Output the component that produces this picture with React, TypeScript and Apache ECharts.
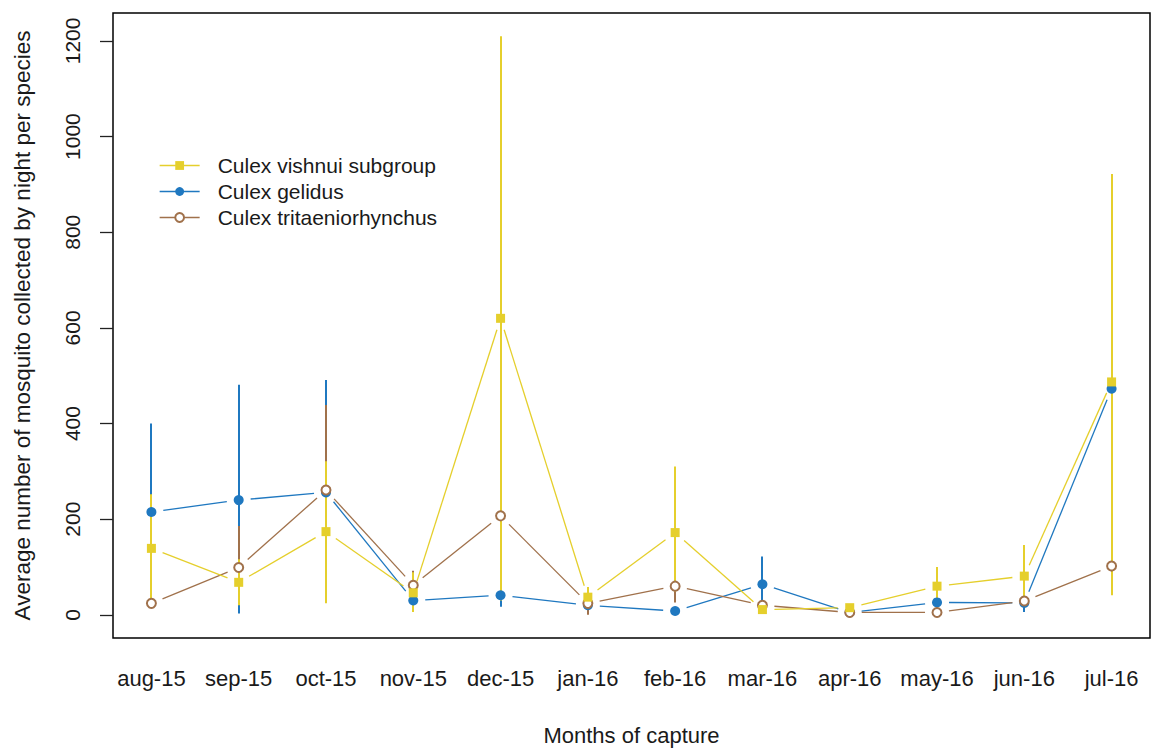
import React, { useEffect, useRef } from "react";
import * as echarts from "echarts";

// Months of capture (x positions 1..12)
const months = [
  "aug-15", "sep-15", "oct-15", "nov-15", "dec-15", "jan-16",
  "feb-16", "mar-16", "apr-16", "may-16", "jun-16", "jul-16",
];

// Culex vishnui subgroup: mean and error-bar range per month
const vishnuiMean = [139, 68, 174, 46, 620, 37, 172, 11, 15, 60, 81, 487];
const vishnuiLow = [24, 20, 24, 6, 30, 16, 49, 5, 10, 20, 16, 41];
const vishnuiHigh = [252, 116, 321, 89, 1210, 58, 310, 17, 20, 100, 146, 922];

// Culex gelidus
const gelidusMean = [215, 240, 256, 30, 41, 20, 8, 64, 5, 26, 25, 473];
const gelidusLow = [30, 3, 25, 18, 17, 8, 0, 6, 0, 14, 6, 60];
const gelidusHigh = [400, 481, 491, 42, 65, 32, 16, 122, 10, 38, 44, 880];

// Culex tritaeniorhynchus
const tritaMean = [24, 99, 261, 62, 207, 24, 60, 20, 5, 5, 29, 102];
const tritaLow = [16, 22, 83, 32, 60, 0, 26, 14, 0, 0, 20, 60];
const tritaHigh = [32, 186, 439, 92, 354, 48, 94, 26, 10, 10, 38, 144];

// Y axis ticks
const yTicks = [0, 200, 400, 600, 800, 1000, 1200];

const FONT = "'Liberation Sans', Arial, sans-serif";
const TEXT = "#1a1a1a";
const YELLOW = "#E5CF2C";
const BLUE = "#1F78C0";
const BROWN = "#A0714B";
const GAP = 12; // distance between a point and the start of its connecting segment

type Species = {
  name: string;
  color: string;
  symbol: string;
  symbolSize: number;
  mean: number[];
  low: number[];
  high: number[];
  z: number;
};

const species: Species[] = [
  { name: "Culex vishnui subgroup", color: YELLOW, symbol: "rect", symbolSize: 9, mean: vishnuiMean, low: vishnuiLow, high: vishnuiHigh, z: 6 },
  { name: "Culex gelidus", color: BLUE, symbol: "circle", symbolSize: 10, mean: gelidusMean, low: gelidusLow, high: gelidusHigh, z: 4 },
  { name: "Culex tritaeniorhynchus", color: BROWN, symbol: "emptyCircle", symbolSize: 9, mean: tritaMean, low: tritaLow, high: tritaHigh, z: 5 },
];

// drawing order for bars and segments: gelidus, tritaeniorhynchus, vishnui on top
const drawOrder = [species[1], species[2], species[0]];

function buildOption() {
  const pointSeries = species.map((s) => ({
    type: "line",
    name: s.name,
    data: s.mean.map((v, i) => [i + 1, v]),
    symbol: s.symbol,
    symbolSize: s.symbolSize,
    showSymbol: true,
    showAllSymbol: true,
    lineStyle: { width: 0, color: s.color },
    itemStyle: {
      color: s.color,
      borderColor: s.color,
      borderWidth: s.symbol === "emptyCircle" ? 1.3 : 0,
    },
    z: s.z,
    silent: true,
  }));

  const barSeries = drawOrder.map((s) => ({
    type: "custom",
    name: s.name,
    data: s.mean.map((_, i) => [i + 1, s.low[i], s.high[i]]),
    encode: { x: 0, y: [1, 2] },
    renderItem: (_params: any, api: any) => {
      const x = api.value(0);
      const p1 = api.coord([x, api.value(1)]);
      const p2 = api.coord([x, api.value(2)]);
      // snap to the pixel grid so overlapping bars cover each other fully
      const px = Math.round(p1[0]);
      return {
        type: "line",
        shape: { x1: px, y1: p1[1], x2: px, y2: p2[1] },
        style: { stroke: s.color, lineWidth: 2 },
      };
    },
    z: 2,
    silent: true,
  }));

  const segmentSeries = drawOrder.map((s) => ({
    type: "custom",
    name: s.name,
    data: s.mean.slice(0, -1).map((v, i) => [i + 1, v, i + 2, s.mean[i + 1]]),
    encode: { x: [0, 2], y: [1, 3] },
    renderItem: (_params: any, api: any) => {
      const a = api.coord([api.value(0), api.value(1)]);
      const b = api.coord([api.value(2), api.value(3)]);
      const dx = b[0] - a[0];
      const dy = b[1] - a[1];
      const len = Math.hypot(dx, dy);
      if (len <= 2 * GAP) return { type: "group", children: [] };
      const ux = dx / len;
      const uy = dy / len;
      return {
        type: "line",
        shape: {
          x1: a[0] + ux * GAP,
          y1: a[1] + uy * GAP,
          x2: b[0] - ux * GAP,
          y2: b[1] - uy * GAP,
        },
        style: { stroke: s.color, lineWidth: 1.3 },
      };
    },
    z: 3,
    silent: true,
  }));

  return {
    animation: false,
    backgroundColor: "#ffffff",
    textStyle: { fontFamily: FONT },
    grid: {
      show: true,
      left: 113,
      top: 13,
      right: 1,
      bottom: 108,
      borderColor: "#000",
      borderWidth: 1.5,
      containLabel: false,
    },
    legend: {
      orient: "vertical",
      left: 154,
      top: 150,
      itemWidth: 40,
      itemHeight: 11,
      itemGap: 5,
      selectedMode: false,
      textStyle: { fontSize: 21, color: TEXT, fontFamily: FONT, padding: [0, 0, 0, 13] },
      data: species.map((s) => ({
        name: s.name,
        lineStyle: { color: s.color, width: 1.3, opacity: 1, type: "solid" },
        ...(s.symbol === "emptyCircle" ? {} : { itemStyle: { color: s.color, borderWidth: 0 } }),
      })),
    },
    xAxis: {
      type: "value",
      min: 0.56,
      max: 12.44,
      name: "Months of capture",
      nameLocation: "middle",
      nameGap: 86,
      nameTextStyle: { fontSize: 22, color: TEXT, fontFamily: FONT },
      axisLine: { show: false },
      axisTick: { show: false },
      splitLine: { show: false },
      axisLabel: {
        customValues: months.map((_, i) => i + 1),
        formatter: (v: number) => months[Math.round(v) - 1] ?? "",
        fontSize: 22,
        color: TEXT,
        fontFamily: FONT,
        margin: 29,
      },
    },
    yAxis: {
      type: "value",
      min: -48.4,
      max: 1258.4,
      name: "Average number of mosquito collected by night per species",
      nameLocation: "middle",
      nameGap: 79,
      nameTextStyle: { fontSize: 22.5, color: TEXT, fontFamily: FONT },
      axisLine: { show: false },
      splitLine: { show: false },
      axisTick: {
        show: true,
        customValues: yTicks,
        length: 13,
        lineStyle: { color: "#222", width: 1.3 },
      },
      axisLabel: {
        customValues: yTicks,
        formatter: (v: number) => String(v),
        rotate: 90,
        fontSize: 21,
        color: TEXT,
        fontFamily: FONT,
        margin: 30,
      },
    },
    series: [...pointSeries, ...barSeries, ...segmentSeries],
  };
}

export default function App() {
  const ref = useRef<HTMLDivElement>(null);

  useEffect(() => {
    if (!ref.current) return;
    const chart = echarts.init(ref.current, undefined, { renderer: "svg" });
    chart.setOption(buildOption() as any);
    return () => chart.dispose();
  }, []);

  return (
    <div
      ref={ref}
      style={{ position: "fixed", left: 0, top: 0, width: 1151, height: 751, background: "#fff" }}
    />
  );
}
